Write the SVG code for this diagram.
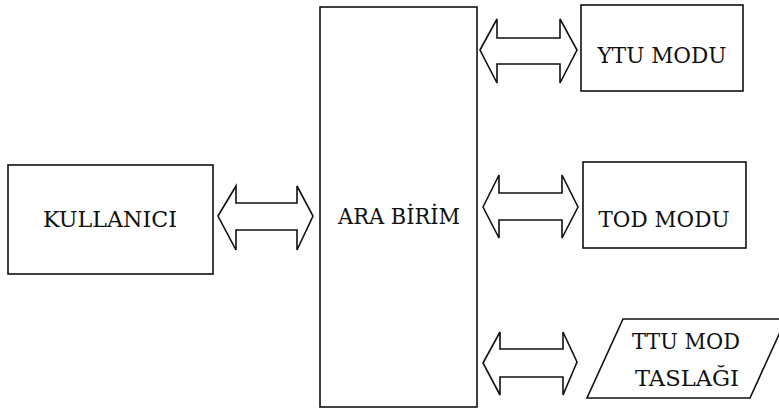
<svg xmlns="http://www.w3.org/2000/svg" width="779" height="409" viewBox="0 0 779 409">
  <style>
    .box { fill: #ffffff; stroke: #111111; stroke-width: 1.6; }
    .arrow { fill: #ffffff; stroke: #111111; stroke-width: 1.6; stroke-linejoin: miter; }
    .lbl { font-family: "DejaVu Serif", "Liberation Serif", serif; font-size: 22px; fill: #111111; text-anchor: middle; }
  </style>
  <rect width="779" height="409" fill="#ffffff"/>

  <!-- connectors: double block arrows -->
  <g id="connectors">
    <polygon class="arrow" points="218,216 236,186 236,203 297,203 297,186 313,216 297,250 297,230 236,230 236,250"/>
    <polygon class="arrow" points="480,50 497,19 497,38 560,38 560,19 577,50 560,83 560,64 497,64 497,83"/>
    <polygon class="arrow" points="483,207 499,175 499,193 562,193 562,175 578,207 562,238 562,220 499,220 499,238"/>
    <polygon class="arrow" points="483,363 500,332 500,349 563,349 563,332 577,362 563,395 563,377 500,377 500,395"/>
  </g>

  <g id="kullanici">
    <rect class="box" x="8" y="165" width="205" height="109"/>
    <text class="lbl" x="110" y="227" textLength="134" lengthAdjust="spacingAndGlyphs">KULLANICI</text>
  </g>

  <g id="ara-birim">
    <rect class="box" x="320" y="7" width="157" height="400"/>
    <text class="lbl" x="399" y="224" textLength="122" lengthAdjust="spacingAndGlyphs">ARA BİRİM</text>
  </g>

  <g id="ytu-modu">
    <rect class="box" x="581" y="5" width="162" height="86"/>
    <text class="lbl" x="662" y="63" textLength="129" lengthAdjust="spacingAndGlyphs">YTU MODU</text>
  </g>

  <g id="tod-modu">
    <rect class="box" x="583" y="162" width="163" height="86"/>
    <text class="lbl" x="664" y="227" textLength="131" lengthAdjust="spacingAndGlyphs">TOD MODU</text>
  </g>

  <g id="ttu-mod-taslagi">
    <polygon class="box" points="623,319 786,319 750,398 587,398"/>
    <text class="lbl" x="686" y="349" textLength="108" lengthAdjust="spacingAndGlyphs">TTU MOD</text>
    <text class="lbl" x="687" y="386" textLength="104" lengthAdjust="spacingAndGlyphs">TASLAĞI</text>
  </g>
</svg>
